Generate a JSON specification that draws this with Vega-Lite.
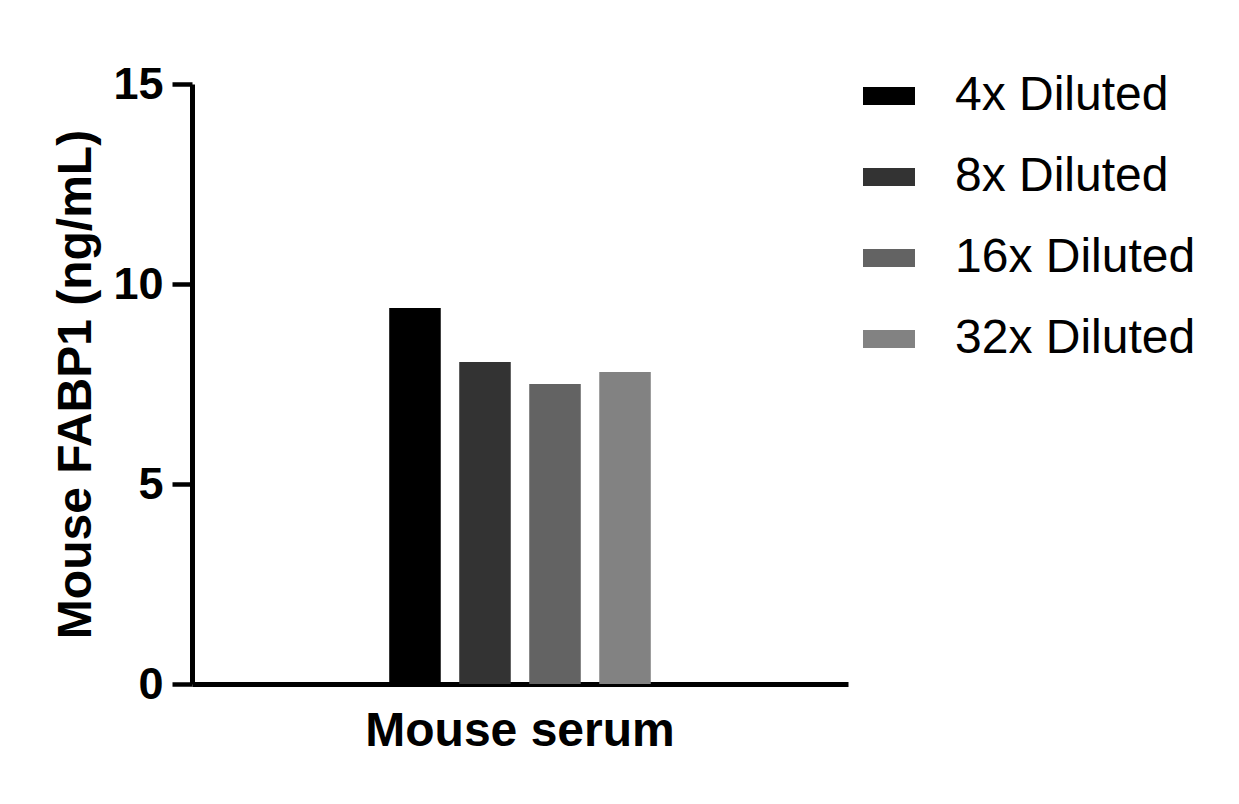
{
  "$schema": "https://vega.github.io/schema/vega-lite/v6.json",
  "autosize": {"type": "none"},
  "padding": {"left": 192, "top": 84, "right": 391, "bottom": 120},
  "width": 656,
  "height": 600,
  "background": "white",
  "config": {
    "view": {"stroke": null},
    "font": "Liberation Sans"
  },
  "data": {
    "values": [
      {"sample": "Mouse serum", "dilution": "4x Diluted", "value": 9.4},
      {"sample": "Mouse serum", "dilution": "8x Diluted", "value": 8.05},
      {"sample": "Mouse serum", "dilution": "16x Diluted", "value": 7.5},
      {"sample": "Mouse serum", "dilution": "32x Diluted", "value": 7.8}
    ]
  },
  "mark": {"type": "bar"},
  "encoding": {
    "x": {
      "field": "sample",
      "type": "nominal",
      "scale": {"paddingInner": 0, "paddingOuter": 0.754},
      "axis": {
        "title": null,
        "labelAngle": 0,
        "labelFont": "Liberation Sans",
        "labelFontSize": 48,
        "labelFontWeight": "bold",
        "labelColor": "black",
        "labelPadding": 23,
        "labelLimit": 600,
        "ticks": false,
        "domainColor": "black",
        "domainWidth": 5,
        "grid": false
      }
    },
    "xOffset": {
      "field": "dilution",
      "type": "nominal",
      "sort": ["4x Diluted", "8x Diluted", "16x Diluted", "32x Diluted"],
      "scale": {"paddingInner": 0.264, "paddingOuter": 0}
    },
    "y": {
      "field": "value",
      "type": "quantitative",
      "scale": {"domain": [0, 15], "nice": false},
      "axis": {
        "title": "Mouse FABP1 (ng/mL)",
        "titleFont": "Liberation Sans",
        "titleFontSize": 48,
        "titleFontWeight": "bold",
        "titleColor": "black",
        "titlePadding": 12,
        "values": [0, 5, 10, 15],
        "labelFont": "Liberation Sans",
        "labelFontSize": 45,
        "labelFontWeight": "bold",
        "labelColor": "black",
        "labelPadding": 9,
        "tickSize": 20,
        "tickWidth": 4.5,
        "tickColor": "black",
        "domainColor": "black",
        "domainWidth": 5,
        "grid": false
      }
    },
    "color": {
      "field": "dilution",
      "type": "nominal",
      "sort": ["4x Diluted", "8x Diluted", "16x Diluted", "32x Diluted"],
      "scale": {
        "domain": ["4x Diluted", "8x Diluted", "16x Diluted", "32x Diluted"],
        "range": ["#000000", "#333333", "#636363", "#828282"]
      },
      "legend": {
        "title": null,
        "orient": "none",
        "legendX": 671,
        "legendY": -14,
        "symbolType": "M-1,-0.346H1V0.346H-1Z",
        "symbolSize": 2704,
        "symbolStrokeWidth": 0,
        "symbolOpacity": 1,
        "labelFont": "Liberation Sans",
        "labelFontSize": 48,
        "labelColor": "black",
        "labelOffset": 40,
        "labelLimit": 400,
        "rowPadding": 31
      }
    }
  }
}
